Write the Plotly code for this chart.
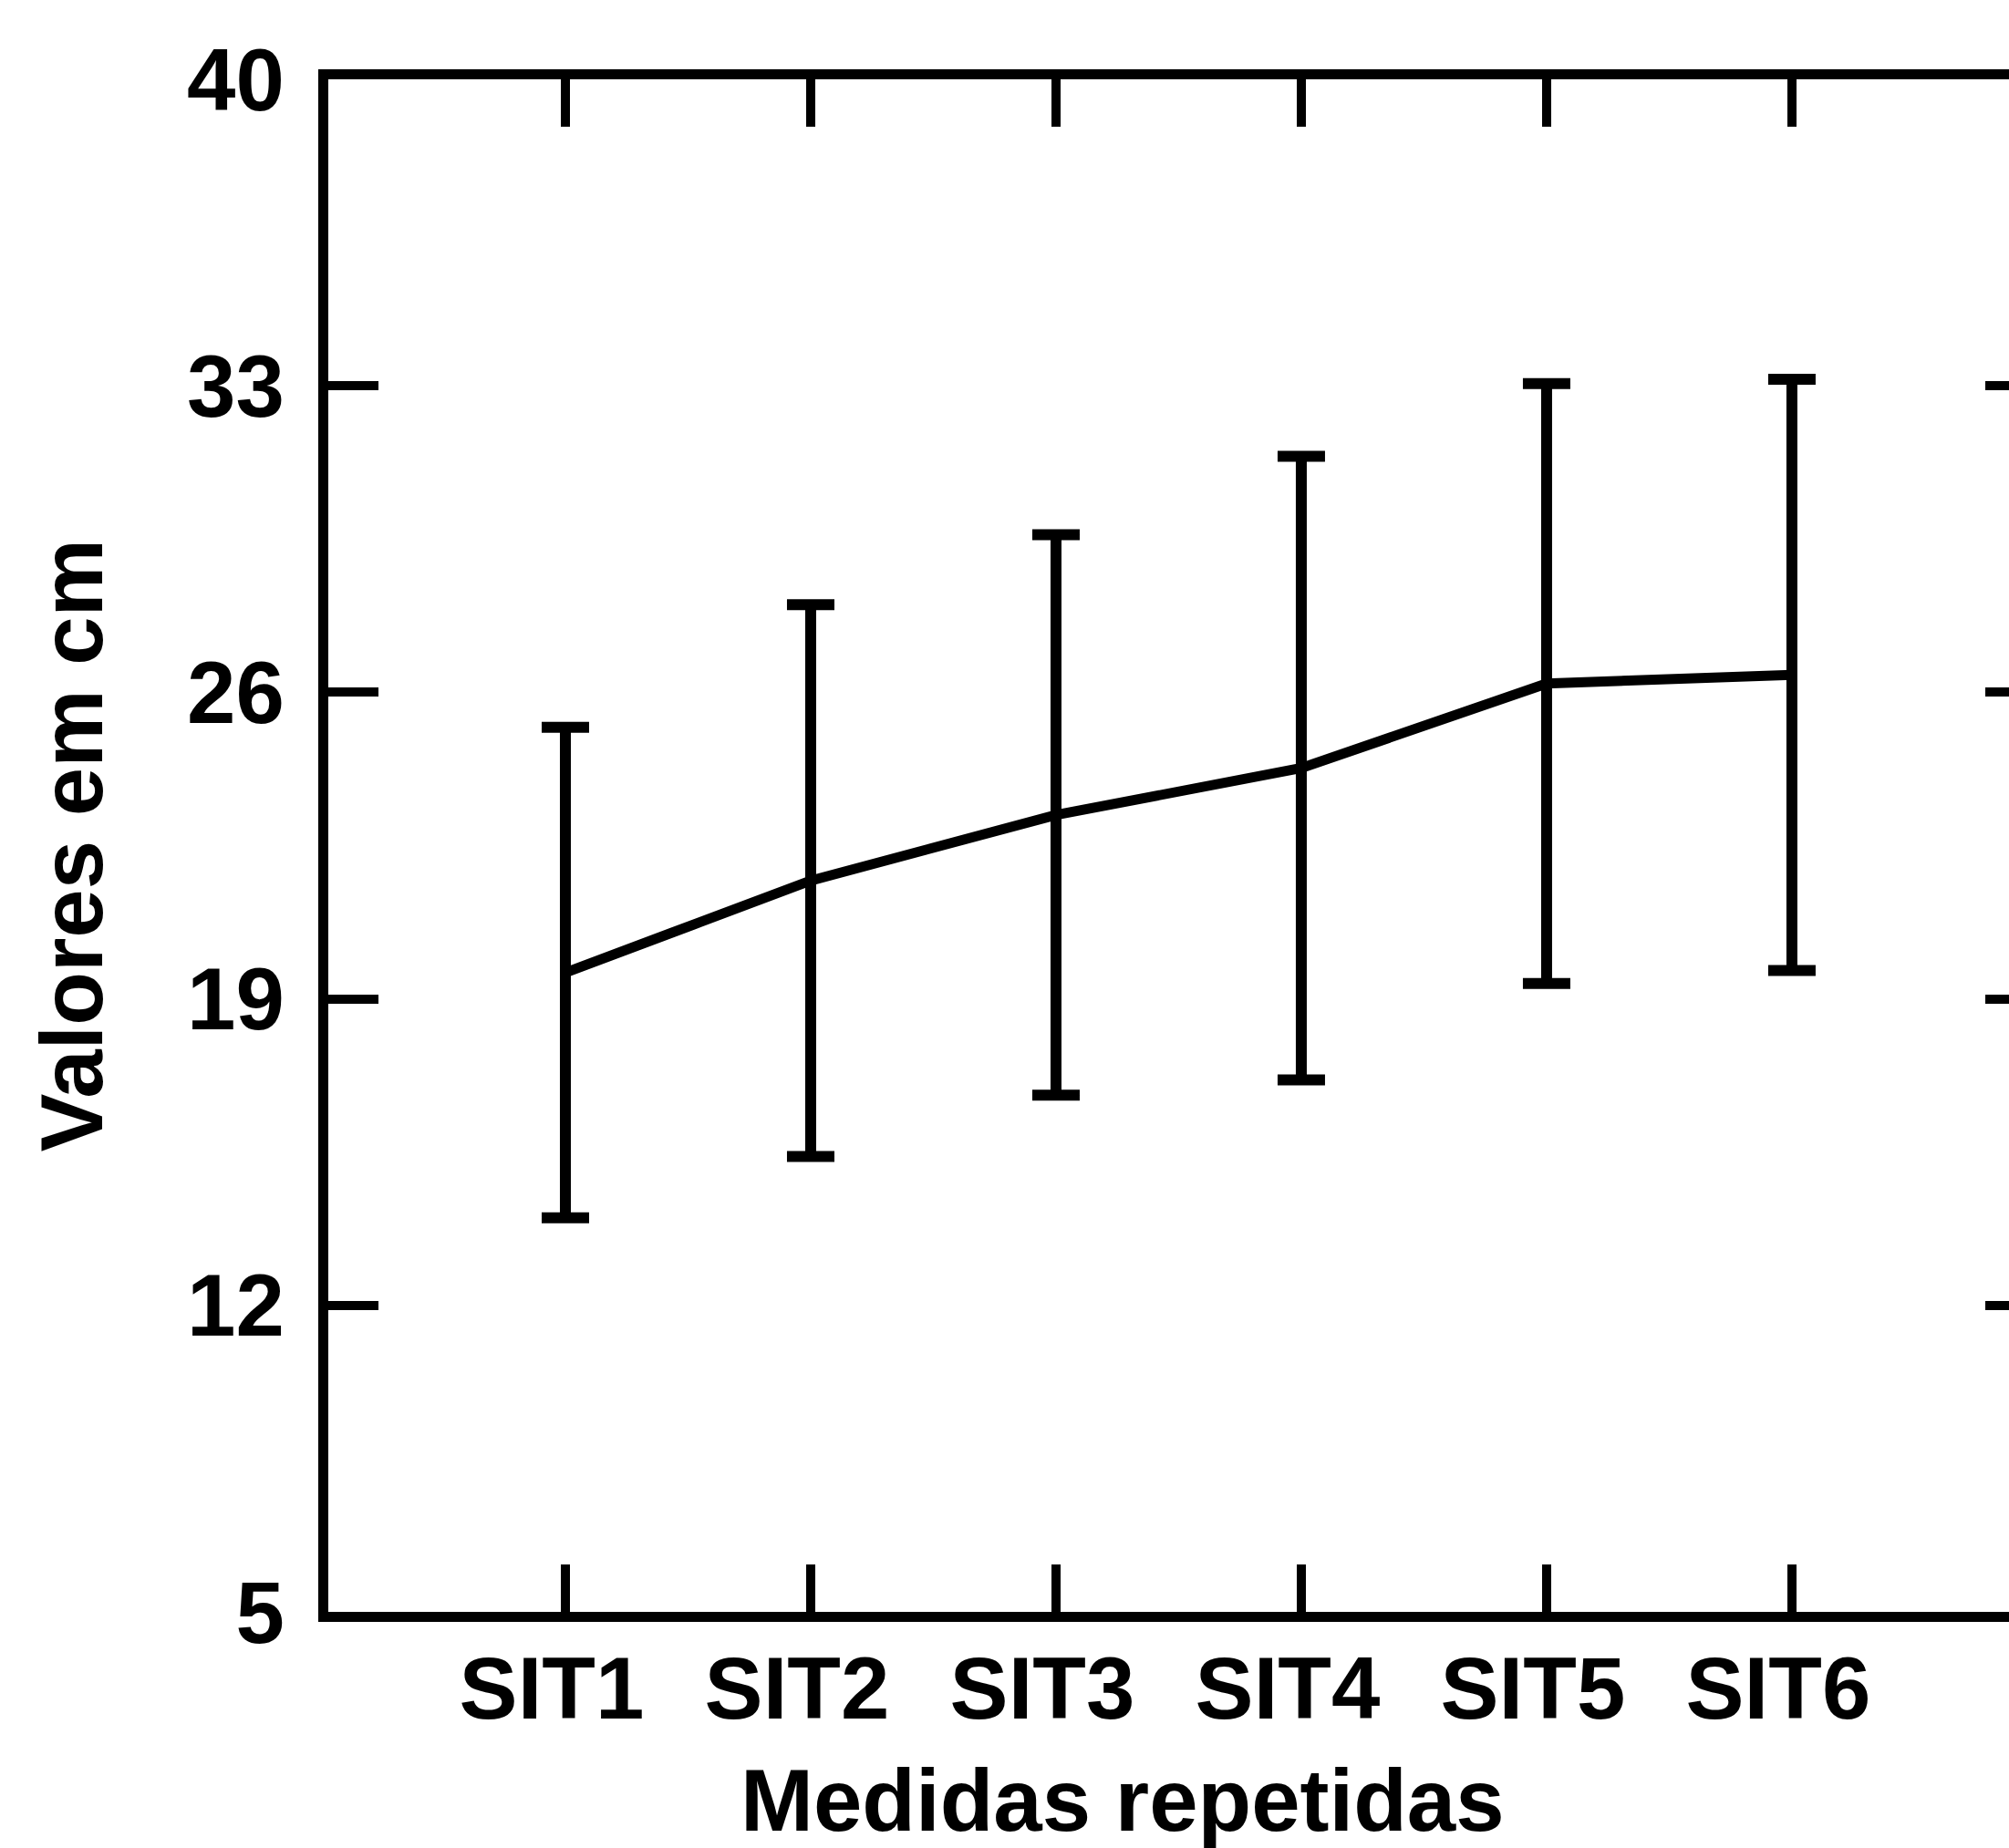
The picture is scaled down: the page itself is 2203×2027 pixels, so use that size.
import plotly.graph_objects as go

categories = ["SIT1", "SIT2", "SIT3", "SIT4", "SIT5", "SIT6"]
positions = [1, 2, 3, 4, 5, 6]
means = [19.6, 21.7, 23.2, 24.27, 26.2, 26.4]
sd = [5.6, 6.3, 6.4, 7.12, 6.85, 6.75]
y_ticks = [5, 12, 19, 26, 33, 40]

W, H = 2203, 2027
ML, MR, MT, MB = 360, 0, 87, 259
FONT = dict(family="Liberation Sans, Arial, sans-serif", size=96, color="black", weight="bold")

fig = go.Figure()
fig.add_trace(go.Scatter(
    x=positions, y=means, mode="lines",
    line=dict(color="black", width=11),
    error_y=dict(type="data", array=sd, visible=True, color="black", thickness=12, width=26),
    showlegend=False, hoverinfo="skip",
))
fig.add_trace(go.Scatter(x=[], y=[], yaxis="y2", showlegend=False))

plot_w = W - ML - MR
plot_h = H - MT - MB

fig.update_layout(
    width=W, height=H,
    margin=dict(l=ML, r=MR, t=MT, b=MB, pad=0),
    paper_bgcolor="white", plot_bgcolor="white",
    xaxis=dict(
        range=[0.0335, 6.885], tickmode="array", tickvals=positions, ticktext=categories,
        ticks="inside", ticklen=52, tickwidth=10, tickcolor="black",
        showline=True, linewidth=11, linecolor="black", mirror="ticks",
        showgrid=False, zeroline=False, tickfont=FONT,
        ticklabelstandoff=-9, ticklabelshift=-15,
    ),
    yaxis=dict(
        range=[5, 40], tickmode="array", tickvals=y_ticks, ticktext=[str(v) for v in y_ticks],
        ticks="inside", ticklen=55, tickwidth=10, tickcolor="black",
        showline=True, linewidth=11, linecolor="black", mirror=False,
        showgrid=False, zeroline=False, tickfont=FONT, ticklabelstandoff=18,
    ),
    yaxis2=dict(
        range=[5, 40], overlaying="y", anchor="x", side="right",
        tickmode="array", tickvals=y_ticks, ticks="inside", ticklen=26, tickwidth=10,
        tickcolor="black", showticklabels=False, showline=False, showgrid=False, zeroline=False,
    ),
    annotations=[
        dict(text="Medidas repetidas", xref="paper", yref="paper",
             x=(1231 - ML) / plot_w, y=-(1974 - (H - MB)) / plot_h,
             xanchor="center", yanchor="middle", showarrow=False, font=FONT),
        dict(text="Valores em cm", xref="paper", yref="paper",
             x=(78 - ML) / plot_w, y=0.5, textangle=-90,
             xanchor="center", yanchor="middle", showarrow=False, font=FONT),
    ],
)

fig.write_html(
    "out.html",
    config={"displayModeBar": False},
    post_script="document.body.style.margin='0px';document.documentElement.style.overflow='hidden';document.body.style.overflow='hidden';",
)
